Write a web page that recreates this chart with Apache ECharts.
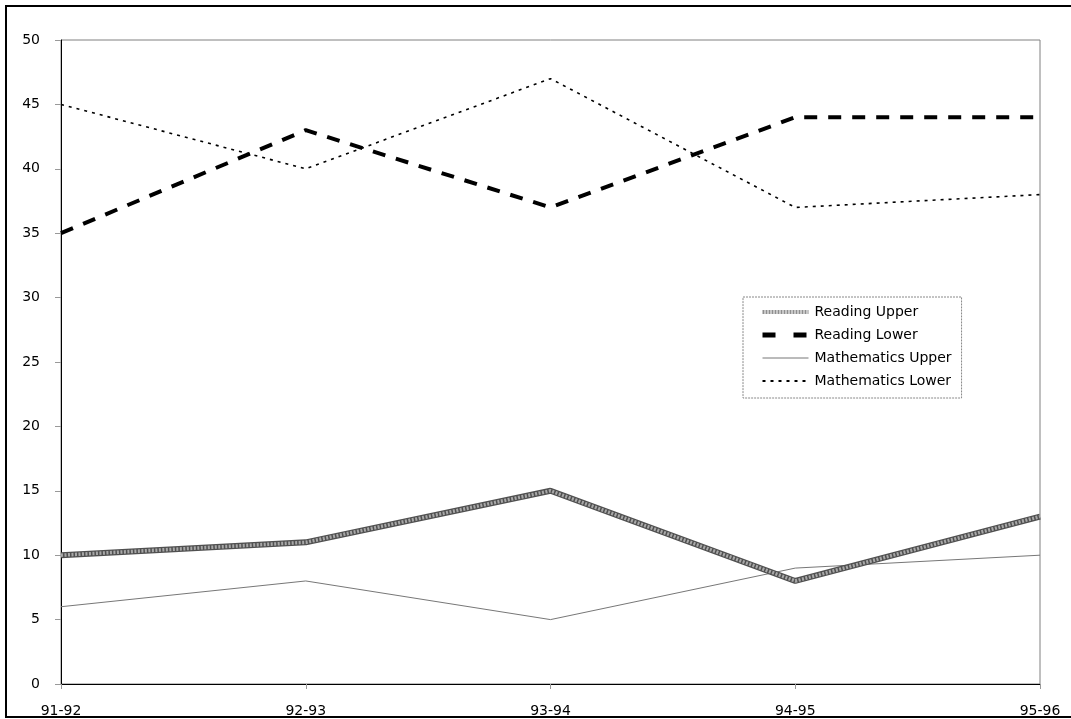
<!DOCTYPE html>
<html>
<head>
<meta charset="utf-8">
<script src="https://cdn.jsdelivr.net/npm/echarts@6/dist/echarts.min.js"></script>
<style>
html,body{margin:0;padding:0;background:#fff;}
#chart{width:1071px;height:719px;}
</style>
</head>
<body>
<div id="chart"></div>
<script>
const categories = ['91-92', '92-93', '93-94', '94-95', '95-96'];
const readingUpper = [10, 11, 15, 8, 13];
const readingLower = [35, 43, 37, 44, 44];
const mathUpper = [6, 8, 5, 9, 10];
const mathLower = [45, 40, 47, 37, 38];
const yTicks = [0, 5, 10, 15, 20, 25, 30, 35, 40, 45, 50];

const chart = echarts.init(document.getElementById('chart'), null, {renderer: 'canvas'});
const font = 'DejaVu Sans, Arial, sans-serif';
chart.setOption({
  animation: false,
  backgroundColor: '#fff',
  textStyle: {fontFamily: font},
  graphic: [{
    type: 'rect', z: 100, silent: true,
    shape: {x: 6, y: 6, width: 1068, height: 711},
    style: {fill: 'none', stroke: '#000', lineWidth: 2}
  }],
  grid: {left: 61, right: 31, top: 40, bottom: 35, show: true, borderColor: '#808080', borderWidth: 1, backgroundColor: 'transparent'},
  legend: {
    orient: 'vertical', left: 743, top: 297,
    padding: [7, 10, 9, 17],
    itemGap: 7, itemWidth: 46, itemHeight: 16,
    borderColor: '#888', borderWidth: 1, borderType: [2, 1],
    itemStyle: {opacity: 0},
    textStyle: {fontFamily: font, fontSize: 14, color: '#000', padding: [0, 0, 0, 1], lineHeight: 16},
    data: [
      {name: 'Reading Upper', lineStyle: {color: '#8f8f8f', width: 4, type: [2, 1]}},
      {name: 'Reading Lower', lineStyle: {color: '#000', width: 5, type: [13, 18]}},
      {name: 'Mathematics Upper', lineStyle: {color: '#777', width: 1, type: 'solid'}},
      {name: 'Mathematics Lower', lineStyle: {color: '#000', width: 2, type: [3, 5]}}
    ]
  },
  xAxis: {
    type: 'category', data: categories, boundaryGap: false,
    axisLine: {lineStyle: {color: '#000', width: 1}},
    axisTick: {show: true, length: 5, lineStyle: {color: '#999'}},
    axisLabel: {color: '#000', fontSize: 14, margin: 20, fontFamily: font},
    splitLine: {show: false}
  },
  yAxis: {
    type: 'value', min: 0, max: 50, interval: 5,
    axisLine: {show: true, lineStyle: {color: '#000', width: 1}},
    axisTick: {show: true, length: 6, lineStyle: {color: '#999'}},
    axisLabel: {color: '#000', fontSize: 14, margin: 21, fontFamily: font,
      formatter: v => yTicks.includes(v) ? String(v) : ''},
    splitLine: {show: false}
  },
  series: [
    {name: 'ru-base', type: 'line', data: readingUpper, symbol: 'none', silent: true,
      lineStyle: {color: '#505050', width: 6}, z: 3},
    {name: 'Reading Upper', type: 'line', data: readingUpper, symbol: 'none',
      lineStyle: {color: '#a8a8a8', width: 3.5, type: [2, 1.5]}, itemStyle: {color: '#909090'}, z: 3},
    {name: 'Reading Lower', type: 'line', data: readingLower, symbol: 'none',
      lineStyle: {color: '#000', width: 4, type: [13, 11]}, itemStyle: {color: '#000'}, z: 4},
    {name: 'Mathematics Upper', type: 'line', data: mathUpper, symbol: 'none',
      lineStyle: {color: '#777', width: 1}, itemStyle: {color: '#777'}, z: 2},
    {name: 'Mathematics Lower', type: 'line', data: mathLower, symbol: 'none',
      lineStyle: {color: '#000', width: 1.6, type: [3, 5]}, itemStyle: {color: '#000'}, z: 2}
  ]
});
</script>
</body>
</html>
